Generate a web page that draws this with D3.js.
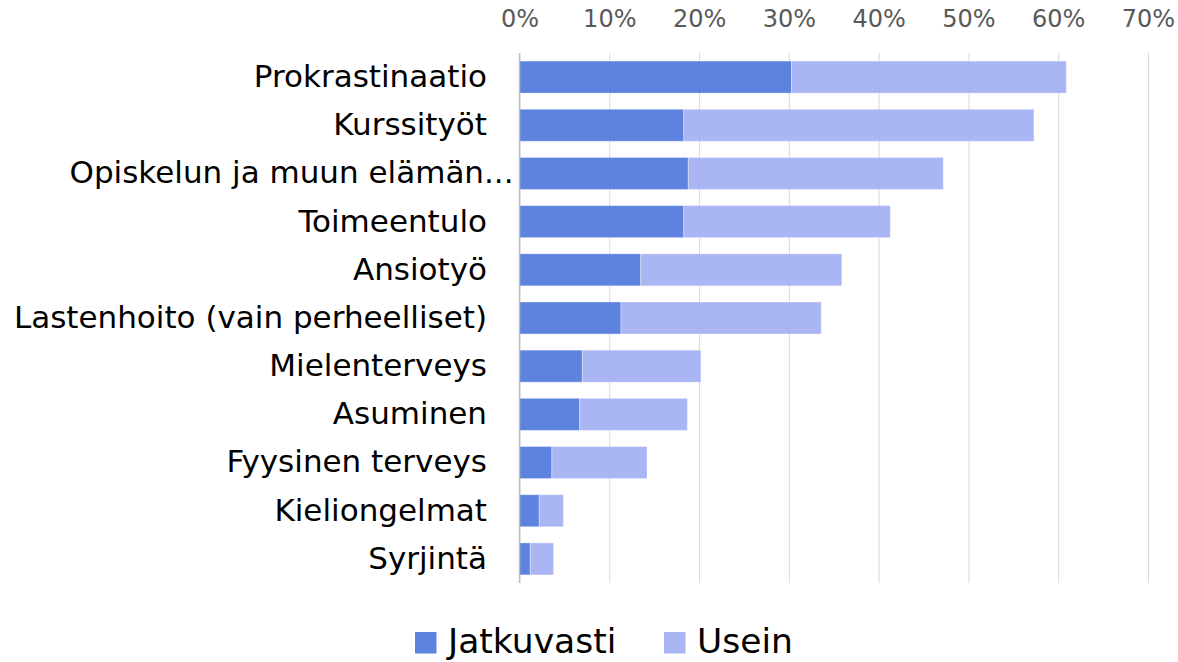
<!DOCTYPE html>
<html>
<head>
<meta charset="utf-8">
<script src="https://cdn.jsdelivr.net/npm/d3@7"></script>
<style>
  html, body { margin: 0; padding: 0; background: #fff; }
  svg { display: block; }
</style>
</head>
<body>
<svg id="chart" width="1178" height="662"></svg>
<script>
// ---- data ----
const categories = [
  "Prokrastinaatio",
  "Kurssityöt",
  "Opiskelun ja muun elämän...",
  "Toimeentulo",
  "Ansiotyö",
  "Lastenhoito (vain perheelliset)",
  "Mielenterveys",
  "Asuminen",
  "Fyysinen terveys",
  "Kieliongelmat",
  "Syrjintä"
];
const jatkuvasti = [30.3, 18.3, 18.8, 18.3, 13.5, 11.3, 7.0, 6.7, 3.6, 2.2, 1.2];
const usein      = [30.6, 39.0, 28.4, 23.0, 22.4, 22.3, 13.2, 12.0, 10.6, 2.7, 2.6];
const seriesNames = ["Jatkuvasti", "Usein"];
const tickValues = [0, 10, 20, 30, 40, 50, 60, 70];

// ---- layout ----
const svg = d3.select("#chart");
const FONT = "'DejaVu Sans', 'Liberation Sans', sans-serif";
const colors = { "Jatkuvasti": "#4b75db", "Usein": "#a1aef3" };
const plotTop = 53, plotBottom = 583;
const x = d3.scaleLinear().domain([0, 70]).range([519.5, 1148]);
const y = d3.scaleBand().domain(categories).range([plotTop, plotBottom])
  .paddingInner(0.335).paddingOuter(0.1675);

const rows = categories.map((c, i) => ({ cat: c, Jatkuvasti: jatkuvasti[i], Usein: usein[i] }));
const stacked = d3.stack().keys(seriesNames)(rows);

// gridlines
const grid = svg.append("g").attr("transform", `translate(0,${plotTop})`)
  .call(d3.axisTop(x).tickValues(tickValues).tickSize(-(plotBottom - plotTop)).tickFormat(""));
grid.select(".domain").remove();
grid.selectAll(".tick line").attr("stroke", "#d9d9d9").attr("stroke-width", 1);

// tick labels
const axis = svg.append("g").attr("transform", "translate(0,26.5)")
  .call(d3.axisTop(x).tickValues(tickValues).tickSize(0).tickPadding(0).tickFormat(d => d + "%"));
axis.select(".domain").remove();
axis.selectAll("text").attr("font-family", FONT).attr("font-size", 24).attr("fill", "#595959");

// bars
svg.append("g").selectAll("g").data(stacked).join("g")
  .attr("fill", d => colors[d.key])
  .selectAll("rect").data(d => d).join("rect")
  .attr("x", d => x(d[0]))
  .attr("y", d => y(d.data.cat))
  .attr("width", d => x(d[1]) - x(d[0]))
  .attr("height", y.bandwidth())
  .attr("fill-opacity", 0.9)
  .attr("stroke", "#ffffff").attr("stroke-opacity", 0.35).attr("stroke-width", 1);

// zero axis line
svg.append("line")
  .attr("x1", x(0)).attr("x2", x(0)).attr("y1", plotTop).attr("y2", plotBottom)
  .attr("stroke", "#bfbfbf").attr("stroke-width", 1.5);

// category labels
const labelRight = 487;
const catG = svg.append("g");
catG.selectAll("text").data(categories).join("text")
  .attr("font-family", FONT).attr("font-size", 31).attr("fill", "#000")
  .attr("text-anchor", "end")
  .attr("y", d => y(d) + y.bandwidth() / 2)
  .attr("dy", "0.32em")
  .text(d => d)
  .attr("x", function(d) {
    if (d.endsWith("...")) {
      const t = catG.append("text").attr("font-family", FONT).attr("font-size", 31).text("...");
      const w = t.node().getComputedTextLength();
      t.remove();
      return labelRight + w * 0.9;
    }
    return labelRight;
  });

// legend
const legendItems = [
  { name: "Jatkuvasti", sx: 415, tx: 448 },
  { name: "Usein", sx: 664, tx: 697 }
];
const lg = svg.append("g");
legendItems.forEach(it => {
  lg.append("rect").attr("x", it.sx).attr("y", 632).attr("width", 21.5).attr("height", 21.5)
    .attr("fill", colors[it.name]).attr("fill-opacity", 0.9);
  lg.append("text").attr("x", it.tx).attr("y", 653)
    .attr("font-family", FONT).attr("font-size", 34.5).attr("fill", "#000")
    .text(it.name);
});
</script>
</body>
</html>
